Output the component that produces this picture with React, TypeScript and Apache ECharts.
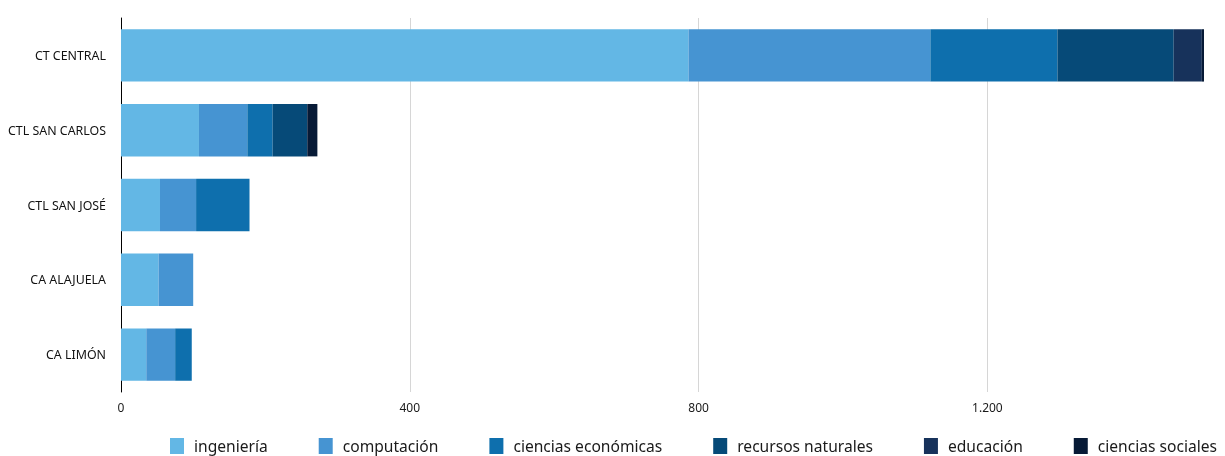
import React, { useEffect, useRef } from "react";
import * as echarts from "echarts";

const categories = ["CT CENTRAL", "CTL SAN CARLOS", "CTL SAN JOSÉ", "CA ALAJUELA", "CA LIMÓN"];
const seriesNames = ["ingeniería", "computación", "ciencias económicas", "recursos naturales", "educación", "ciencias sociales"];
const ingenieria = [786, 108, 54, 52, 35];
const computacion = [335, 67, 50, 48, 40];
const cienciasEconomicas = [176, 35, 74, 0, 23];
const recursosNaturales = [161, 48, 0, 0, 0];
const educacion = [39, 0, 0, 0, 0];
const cienciasSociales = [3, 14, 0, 0, 0];
const colors = ["#63b7e5", "#4694d2", "#0e6fad", "#064a78", "#17325b", "#071a36"];
const xTicks = [0, 400, 800, 1200];

function fmt(v: number): string {
  const s = String(Math.round(v));
  return s.replace(/\B(?=(\d{3})+(?!\d))/g, ".");
}

export default function App() {
  const ref = useRef<HTMLDivElement>(null);
  useEffect(() => {
    if (!ref.current) return;
    const chart = echarts.init(ref.current, undefined, { renderer: "svg" });
    const values = [ingenieria, computacion, cienciasEconomicas, recursosNaturales, educacion, cienciasSociales];
    const font = "'Noto Sans', sans-serif";
    chart.setOption({
      animation: false,
      color: colors,
      textStyle: { fontFamily: font },
      grid: { left: 121, right: 21, top: 18, bottom: 64, containLabel: false },
      legend: {
        data: seriesNames,
        left: 170,
        top: 438,
        width: 1055,
        padding: 0,
        itemWidth: 14,
        itemHeight: 16,
        itemGap: 51,
        icon: "rect",
        textStyle: { fontSize: 15.6, color: "#1a1a1a", fontFamily: font, padding: [0, 0, 0, 5] },
      },
      xAxis: {
        type: "value",
        min: 0,
        max: 1500,
        interval: 400,
        axisLine: { show: false },
        axisTick: { show: false },
        splitLine: { show: true, showMinLine: false, showMaxLine: false, lineStyle: { color: "#d6d6d6", width: 1 } },
        axisLabel: {
          showMaxLabel: false,
          margin: 9,
          fontSize: 12,
          color: "#1a1a1a",
          fontFamily: font,
          formatter: (v: number) => (xTicks.includes(v) ? fmt(v) : ""),
        },
      },
      yAxis: {
        type: "category",
        data: categories,
        inverse: true,
        axisLine: { show: true, lineStyle: { color: "#000", width: 1 } },
        axisTick: { show: false },
        axisLabel: { fontSize: 12.4, color: "#111", margin: 15, fontFamily: font },
      },
      series: seriesNames.map((name, i) => ({
        name,
        type: "bar",
        stack: "total",
        barCategoryGap: "30%",
        data: values[i],
        itemStyle: { color: colors[i] },
      })),
    });
    return () => chart.dispose();
  }, []);
  return <div ref={ref} style={{ position: "fixed", left: 0, top: 0, width: 1225, height: 456 }} />;
}
